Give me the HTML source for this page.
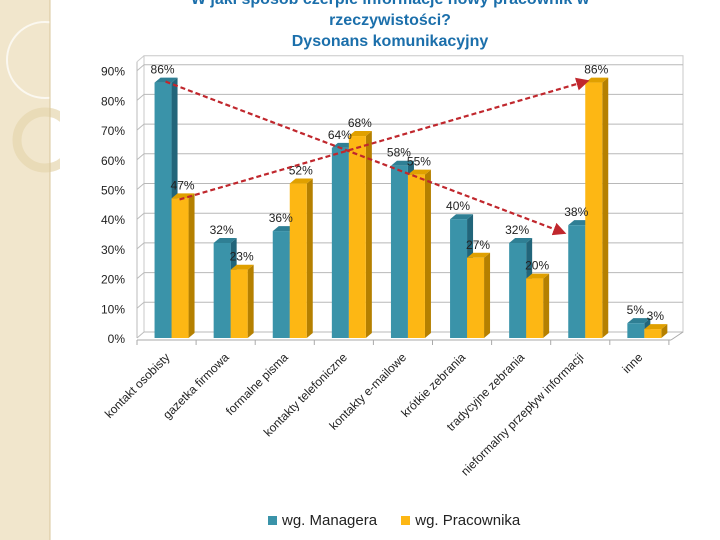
<!DOCTYPE html>
<html><head><meta charset="utf-8"><style>
body{margin:0;width:720px;height:540px;overflow:hidden;background:#fff;font-family:"Liberation Sans",sans-serif}
.t{position:absolute;left:60px;width:660px;text-align:center;color:#1b6fab;font-weight:bold;font-size:16px;line-height:21px}
</style></head><body>
<div style="position:absolute;left:0;top:0;width:50px;height:540px;background:#f1e6cc"></div>
<svg style="position:absolute;left:0;top:0" width="60" height="540">
<circle cx="45" cy="60" r="38" fill="none" stroke="#fff" stroke-width="2" opacity="0.7"/>
<circle cx="45" cy="140" r="28" fill="none" stroke="#e6d6ae" stroke-width="9" opacity="0.7"/>
<line x1="50" y1="0" x2="50" y2="540" stroke="#d9c79c" stroke-width="1"/>
</svg>
<div class="t" style="top:-11px">W jaki sposób czerpie informacje nowy pracownik w<br>rzeczywistości?<br>Dysonans komunikacyjny</div>
<svg id="c" width="720" height="540" style="position:absolute;left:0;top:0"></svg>
<script>
const categories=["kontakt osobisty","gazetka firmowa","formalne pisma","kontakty telefoniczne","kontakty e-mailowe","krótkie zebrania","tradycyjne zebrania","nieformalny przepływ informacji","inne"];
const managerValues=[86,32,36,64,58,40,32,38,5];
const workerValues=[47,23,52,68,55,27,20,86,3];
const yTicks=[0,10,20,30,40,50,60,70,80,90];
const svg=document.getElementById('c');const NS='http://www.w3.org/2000/svg';
function mk(t,a,p){const e=document.createElementNS(NS,t);for(const k in a)e.setAttribute(k,a[k]);(p||svg).appendChild(e);return e;}
const base=338,pp=2.97,x0=137,cw=59.1,dx=7,dy=6;
const y=v=>base-v*pp;const cx=i=>x0+cw*(i+0.5);
mk('polygon',{points:`${x0+dx},${base-dy} ${683},${base-dy} ${683},${y(93)-dy} ${x0+dx},${y(93)-dy}`,fill:'#fff',stroke:'#c8c8c8'});
mk('line',{x1:x0,y1:base,x2:x0,y2:y(93),stroke:'#bbb'});
mk('line',{x1:x0,y1:y(93),x2:x0+dx,y2:y(93)-dy,stroke:'#ccc'});
yTicks.forEach(v=>{
 const g=mk('line',{x1:x0,y1:y(v),x2:x0+dx,y2:y(v)-dy,stroke:'#bbb'});
 
 const l=mk('line',{x1:x0+dx,y1:y(v)-dy,x2:683,y2:y(v)-dy,stroke:'#b8b8b8'});
 
 const t=mk('text',{x:125,y:y(v)+5,'text-anchor':'end','font-size':12,fill:'#222'});t.textContent=v+'%';
 
});
mk('line',{x1:x0,y1:base+2,x2:671,y2:base+2,stroke:'#aaa'});
mk('line',{x1:671,y1:base+2,x2:683,y2:base-dy,stroke:'#aaa'});
for(let i=0;i<=categories.length;i++){mk('line',{x1:x0+cw*i,y1:base+2,x2:x0+cw*i,y2:base+7,stroke:'#aaa'});}
function bar(x,w,v,front,side,top,name){
 const g=mk('g',{});
 const t=y(v);
 mk('polygon',{points:`${x+w},${base} ${x+w+6},${base-5} ${x+w+6},${t-5} ${x+w},${t}`,fill:side},g);
 mk('polygon',{points:`${x},${t} ${x+6},${t-5} ${x+w+6},${t-5} ${x+w},${t}`,fill:top},g);
 mk('rect',{x:x,y:t,width:w,height:base-t,fill:front},g);
}
function lab(x,v,name){const t=mk('text',{x:x,y:y(v)-9,'text-anchor':'middle','font-size':12,fill:'#222'});t.textContent=v+'%';}
categories.forEach((c,i)=>{
 const bx=cx(i)-12;
 bar(bx,17,managerValues[i],'#3a93a9','#22657a','#2f7f94','bar-manager-'+i);
 bar(bx+17,17,workerValues[i],'#fdb714','#b58000','#e0a000','bar-worker-'+i);
 lab(bx+8,managerValues[i],'value-manager-'+i);
 lab(bx+28,workerValues[i],'value-worker-'+i);
 const tx=cx(i)+4,ty=base+20;
 const t=mk('text',{x:tx,y:ty,'text-anchor':'end','font-size':12,fill:'#222',transform:`rotate(-45 ${tx} ${ty})`});t.textContent=c;
 
});
mk('defs',{}).innerHTML='<marker id="ar" markerWidth="6" markerHeight="6" refX="4" refY="3" orient="auto"><path d="M0,0 L6,3 L0,6z" fill="#c0272d"/></marker>';
const l1=mk('line',{x1:cx(0)-1,y1:y(managerValues[0])-1,x2:cx(7)-18,y2:y(managerValues[7])+7,stroke:'#c0272d','stroke-width':2.2,'stroke-dasharray':'5,3','marker-end':'url(#ar)'});

const l2=mk('line',{x1:cx(0)+13,y1:y(workerValues[0])+1,x2:cx(7)+5,y2:y(workerValues[7])-1,stroke:'#c0272d','stroke-width':2.2,'stroke-dasharray':'5,3','marker-end':'url(#ar)'});

</script>
<div style="position:absolute;top:512px;left:268px;font-size:15px;color:#222;white-space:nowrap">
<span><span style="display:inline-block;width:9px;height:9px;background:#3a93a9;margin-right:5px"></span>wg. Managera</span>
<span style="margin-left:20px"><span style="display:inline-block;width:9px;height:9px;background:#fdb714;margin-right:5px"></span>wg. Pracownika</span>
</div>
</body></html>
